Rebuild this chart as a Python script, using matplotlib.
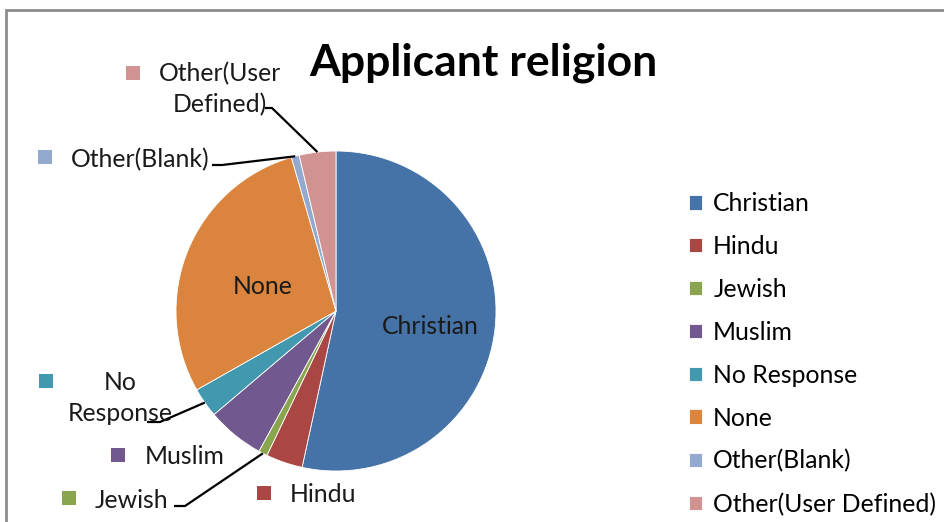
import matplotlib
matplotlib.use('Agg')
import matplotlib.pyplot as plt
from matplotlib.patches import Rectangle
import numpy as np

plt.rcParams['font.family'] = ['Lato', 'DejaVu Sans']

# data (share of applicants, %)
religions = ['Christian', 'Hindu', 'Jewish', 'Muslim', 'No Response',
             'None', 'Other(Blank)', 'Other(User Defined)']
shares = [53.4, 3.7, 0.9, 5.8, 3.0, 28.7, 0.8, 3.7]
colors = ['#4572A7', '#AA4643', '#89A54E', '#71588F', '#4198AF',
          '#DB843D', '#93A9CF', '#D19392']

W, H = 945, 522
fig = plt.figure(figsize=(W / 100, H / 100), dpi=100)
ax = fig.add_axes([0, 0, 1, 1])

# chart frame (gray border, runs off right/bottom)
ax.add_patch(Rectangle((6, -40), 1000, H - 10 + 40, fill=False,
                       edgecolor='#8c8c8c', linewidth=2))

cx, cy, r = 336, H - 311, 160
wedges, _ = ax.pie(shares, colors=colors, startangle=90, counterclock=False,
                   center=(cx, cy), radius=r, frame=True,
                   wedgeprops=dict(linewidth=0.6, edgecolor='white'))
ax.set_xlim(0, W)
ax.set_ylim(0, H)
ax.set_aspect('equal')
ax.axis('off')

ax.text(483, H - 63, 'Applicant religion', fontsize=32, fontweight='bold',
        ha='center', va='center')

fs = 17.8
# labels inside the slices
ax.text(263, H - 287, 'None', fontsize=fs, ha='center', va='center', color='#1a1a1a')
ax.text(430, H - 327, 'Christian', fontsize=fs, ha='center', va='center', color='#1a1a1a')

# outside labels: (text, text x, text y, ha, key x, key y)
outside = {
    'Other(User Defined)': ('Other(User\nDefined)', 220, 89, 'center', 133, 73),
    'Other(Blank)': ('Other(Blank)', 71, 160, 'left', 45, 157),
    'No Response': ('No\nResponse', 120, 398, 'center', 46, 381),
    'Muslim': ('Muslim', 145, 457, 'left', 118, 455),
    'Jewish': ('Jewish', 95, 500, 'left', 69, 498),
    'Hindu': ('Hindu', 290, 494, 'left', 264, 493),
}
# leader lines: label end -> elbow, then to slice edge
leaders = {
    'Other(User Defined)': ((265, 108), (272, 108)),
    'Other(Blank)': ((212, 165), (222, 165)),
    'No Response': ((147, 422), (160, 422)),
    'Jewish': ((174, 506), (185, 506)),
}

for w, name, col in zip(wedges, religions, colors):
    if name not in outside:
        continue
    txt, tx, ty, ha, kx, ky = outside[name]
    ax.text(tx, H - ty, txt, fontsize=fs, ha=ha, va='center',
            linespacing=1.4, color='#1a1a1a')
    ax.scatter([kx], [H - ky], marker='s', s=95, color=col, linewidths=0)
    if name in leaders:
        mid = np.deg2rad((w.theta1 + w.theta2) / 2)
        ex, ey = cx + r * np.cos(mid), cy + r * np.sin(mid)
        (ax0, ay0), (ax1, ay1) = leaders[name]
        ax.plot([ax0, ax1, ex], [H - ay0, H - ay1, ey], color='black', lw=1.6,
                solid_capstyle='butt')

fig.legend(wedges, religions, loc='upper left', bbox_to_anchor=(689 / W, 1 - 192 / H),
           frameon=False, fontsize=fs, handlelength=0.53, handleheight=0.53,
           handletextpad=0.45, labelspacing=0.805, borderpad=0, borderaxespad=0)

fig.savefig('out.png', dpi=100)
